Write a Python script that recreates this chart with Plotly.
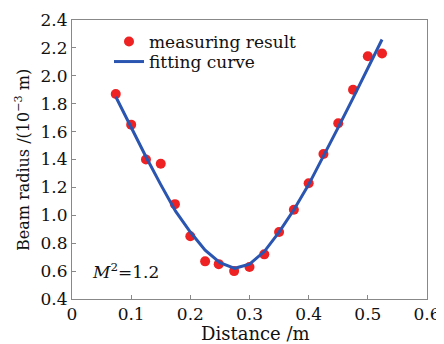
import plotly.graph_objects as go

distance = [0.074, 0.1, 0.125, 0.15, 0.174, 0.2, 0.225, 0.248, 0.274, 0.3,
            0.325, 0.35, 0.375, 0.4, 0.425, 0.45, 0.475, 0.5, 0.524]
measured = [1.87, 1.65, 1.40, 1.37, 1.08, 0.85, 0.67, 0.65, 0.60, 0.63,
            0.72, 0.88, 1.04, 1.23, 1.44, 1.66, 1.90, 2.14, 2.16]
fit_x = [0.074, 0.1, 0.125, 0.15, 0.175, 0.2, 0.225, 0.25, 0.275, 0.3,
         0.325, 0.35, 0.375, 0.4, 0.425, 0.45, 0.475, 0.5, 0.524]
fit_y = [1.85, 1.63, 1.42, 1.22, 1.03, 0.88, 0.75, 0.66, 0.62, 0.65,
         0.74, 0.88, 1.04, 1.22, 1.42, 1.63, 1.84, 2.05, 2.26]
x_ticks = [0, 0.1, 0.2, 0.3, 0.4, 0.5, 0.6]
y_ticks = [0.4, 0.6, 0.8, 1.0, 1.2, 1.4, 1.6, 1.8, 2.0, 2.2, 2.4]

FONT = "DejaVu Serif"
OFF = 8  # default page body margin
W, H = 444 - OFF, 344 - OFF
L, R, T, B = 72 - OFF, 17, 20 - OFF, 45
PX0, PX1, PY0, PY1 = 72, 427, 20, 299  # plot area in page pixels


def px(xp):
    return (xp - PX0) / (PX1 - PX0)


def py(yp):
    return (PY1 - yp) / (PY1 - PY0)


fig = go.Figure()
fig.add_trace(go.Scatter(x=distance, y=measured, mode="markers", name="measuring result",
                         marker=dict(color="#ee2222", size=10), legend="legend"))
fig.add_trace(go.Scatter(x=fit_x, y=fit_y, mode="lines", name="fitting curve",
                         line=dict(color="#2a55b0", width=3), legend="legend2"))

leg_common = dict(xanchor="left", yanchor="middle", bgcolor="rgba(0,0,0,0)",
                  font=dict(size=17), itemwidth=30, borderwidth=0)
fig.update_layout(
    width=W, height=H,
    margin=dict(l=L, r=R, t=T, b=B),
    paper_bgcolor="white", plot_bgcolor="white",
    font=dict(family=FONT, size=16, color="#111"),
    showlegend=True,
    legend=dict(x=px(109), y=py(42), **leg_common),
    legend2=dict(x=px(109), y=py(62), **leg_common),
    xaxis=dict(range=[0, 0.6], tickvals=x_ticks, ticktext=[f"{v:g}" for v in x_ticks],
               ticks="inside", ticklen=4, tickcolor="#888", showline=True, linecolor="#888",
               mirror=True, showgrid=False, zeroline=False, automargin=False,
               tickfont=dict(size=17)),
    yaxis=dict(range=[0.4, 2.4], tickvals=y_ticks, ticktext=[f"{v:.1f}" for v in y_ticks],
               ticks="inside", ticklen=4, tickcolor="#888", showline=True, linecolor="#888",
               mirror=True, showgrid=False, zeroline=False, automargin=False,
               tickfont=dict(size=17)),
)
fig.add_annotation(x=0.03, y=0.6, xref="x", yref="y", xanchor="left", showarrow=False,
                   text="<i>M</i><sup>2</sup>=1.2", font=dict(size=17))
fig.add_annotation(x=px(255), y=py(333), xref="paper", yref="paper", showarrow=False,
                   text="Distance /m", font=dict(size=18), yanchor="middle")
fig.add_annotation(x=px(22), y=py(160), xref="paper", yref="paper", showarrow=False,
                   text="Beam radius /(10<sup>−3</sup> m)", font=dict(size=16),
                   textangle=-90, xanchor="center", yanchor="middle")

fig.write_html("out.html")
